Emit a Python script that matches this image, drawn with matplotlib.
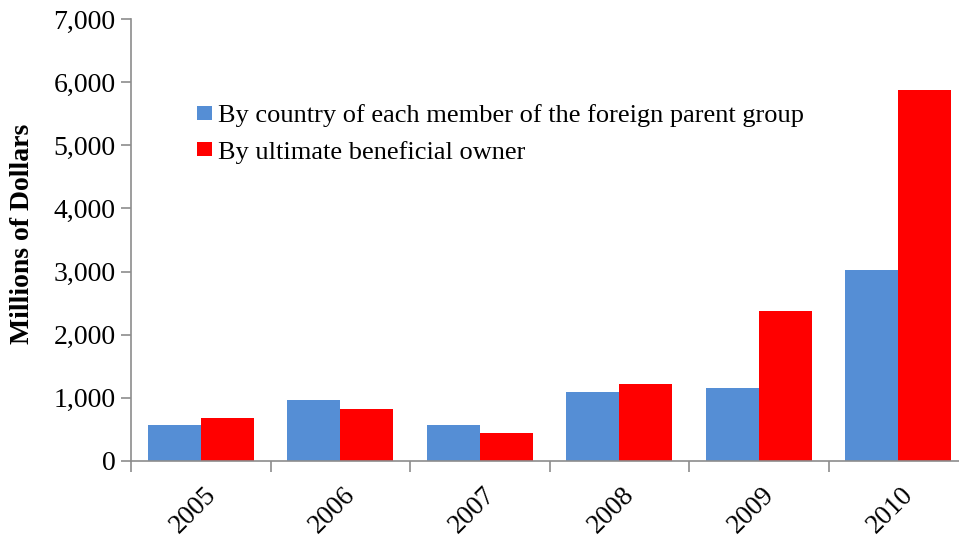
import numpy as np
import matplotlib as mpl
mpl.use("Agg")
import matplotlib.pyplot as plt
from matplotlib.ticker import FuncFormatter

years = ["2005", "2006", "2007", "2008", "2009", "2010"]
by_country = [563, 962, 563, 1100, 1164, 3030]
by_owner = [681, 824, 447, 1223, 2376, 5869]

BLUE, RED, AXIS = "#558ED5", "#FF0000", "#8C8C8C"

mpl.rcParams.update({
    "font.family": ["Liberation Serif", "DejaVu Serif"],
    "axes.edgecolor": AXIS, "axes.linewidth": 1.2,
    "xtick.color": AXIS, "ytick.color": AXIS,
    "xtick.labelcolor": "black", "ytick.labelcolor": "black",
})

fig = plt.figure(figsize=(9.59, 5.42), dpi=100)
ax = fig.add_axes([131 / 959, 1 - 461 / 542, 837 / 959, 442 / 542])

x = np.arange(len(years))
w = 0.38
ax.bar(x - w / 2, by_country, w, color=BLUE,
       label="By country of each member of the foreign parent group")
ax.bar(x + w / 2, by_owner, w, color=RED, label="By ultimate beneficial owner")

ax.set_xlim(-0.5, len(years) - 0.5)
ax.set_ylim(0, 7000)
ax.set_yticks(np.arange(0, 7001, 1000))
ax.yaxis.set_major_formatter(FuncFormatter(lambda v, p: f"{v:,.0f}"))
ax.tick_params(axis="y", labelsize=20, length=7, width=1.2, direction="out", pad=4)

# category boundary ticks, labels at centres
ax.set_xticks(np.arange(-0.5, len(years), 1.0))
ax.set_xticklabels([])
ax.tick_params(axis="x", which="major", length=8, width=1.2)
ax.set_xticks(x + 0.02, minor=True)
ax.set_xticklabels(years, minor=True, rotation=45, ha="right",
                   rotation_mode="anchor", fontsize=19.5)
ax.tick_params(axis="x", which="minor", length=0, pad=15)

for s in ("top", "right"):
    ax.spines[s].set_visible(False)

ax.set_ylabel("Millions of Dollars", fontsize=20, fontweight="bold")
ax.yaxis.set_label_coords(-0.115, 0.514)

ax.legend(loc="upper left", bbox_to_anchor=(0.0666, 0.831), frameon=False,
          fontsize=19, handlelength=0.55, handleheight=0.45, handletextpad=0.25,
          labelspacing=0.51, borderaxespad=0)

fig.savefig("out.png", dpi=100)
